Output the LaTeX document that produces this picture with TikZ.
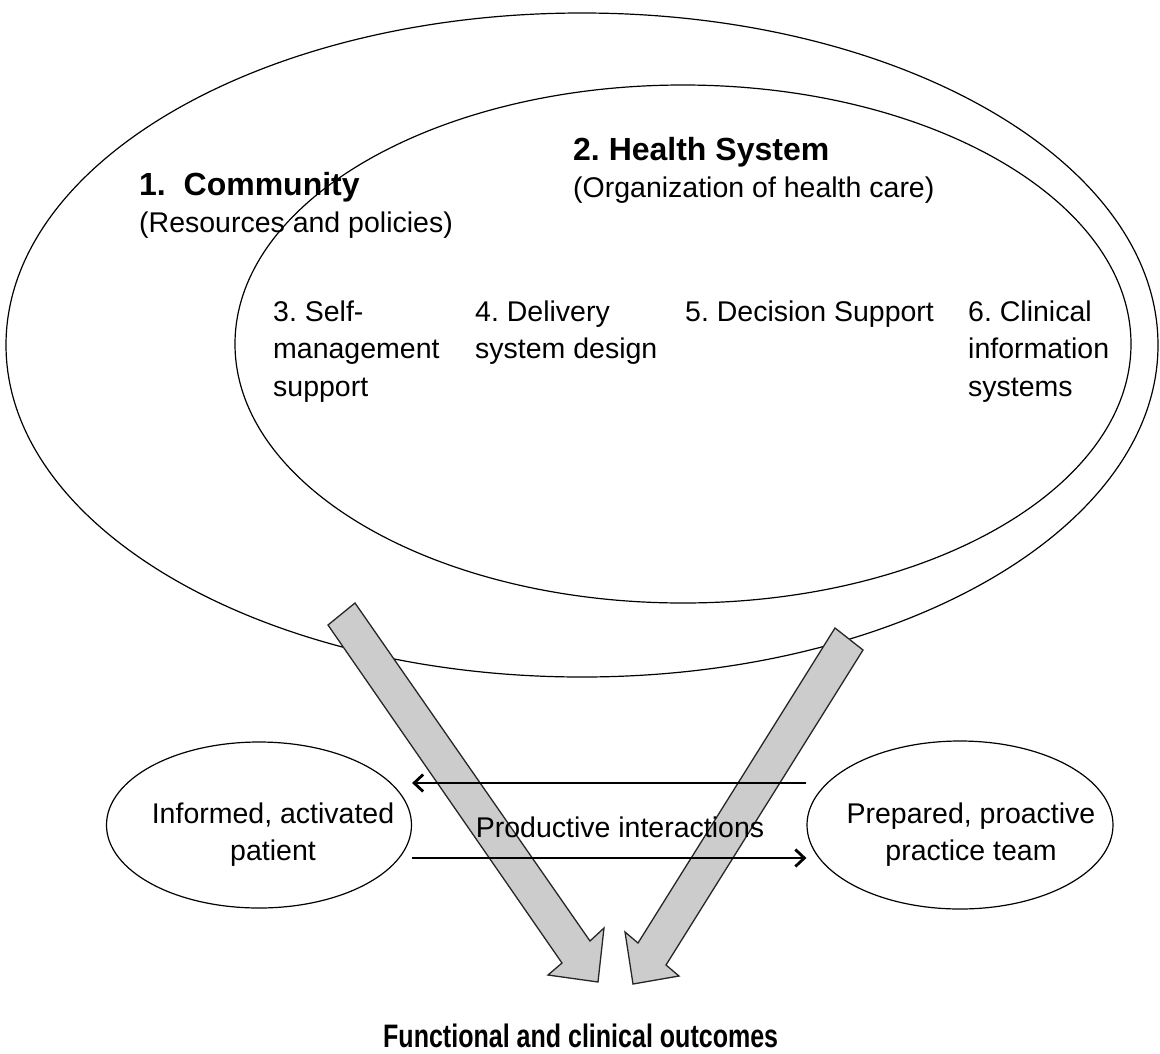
\documentclass[tikz,border=0pt]{standalone}
\usepackage{fontspec}
\setmainfont{Liberation Sans}
\usetikzlibrary{shapes.geometric,arrows.meta}
\definecolor{blockgray}{RGB}{204,204,204}
\frenchspacing
\begin{document}
\begin{tikzpicture}[x=1pt,y=-1pt,
  ring/.style={draw=black,line width=1.2pt,ellipse,inner sep=0pt},
  lbl/.style={inner sep=0pt,anchor=base west,align=left,font=\frenchspacing\fontsize{28.5}{37.5}\selectfont},
  headlbl/.style={inner sep=0pt,anchor=base west,font=\frenchspacing\bfseries\fontsize{32}{38}\selectfont},
  block/.style={fill=blockgray,draw=black!85,line width=1.3pt,line join=miter},
  link/.style={line width=2.8pt,-{Straight Barb[length=9pt,width=17pt,line width=2.8pt]}}
]
\useasboundingbox (0,0) rectangle (1160,1053);
% big ellipses
\node[ring,minimum width=1152pt,minimum height=664pt] (community) at (582,345) {};
\node[ring,minimum width=896pt,minimum height=518pt] (health) at (683,344) {};
% headings
\node[headlbl] (commtitle) at (139,195) {1.\ \ Community};
\node[lbl] (commsub) at (139,232) {(Resources and policies)};
\node[headlbl] (hstitle) at (573,160) {2. Health System};
\node[lbl] (hssub) at (573,197) {(Organization of health care)};
% elements (base anchor = last line baseline)
\node[lbl] (selfmgmt) at (273,396) {3. Self-\\management\\support};
\node[lbl] (delivery) at (475,358.5) {4. Delivery\\system design};
\node[lbl] (decision) at (685,321) {5. Decision Support};
\node[lbl] (clinical) at (968,396) {6. Clinical\\information\\systems};
% gray block arrows
\draw[block] (328,625) -- (355,603) -- (590,941) -- (604,928) -- (598,982) -- (548,975) -- (562,963) -- cycle;
\draw[block] (835,628) -- (863,650) -- (666,965) -- (679,976) -- (633,984) -- (625,932) -- (638,943) -- cycle;
% patient and team
\node[ring,minimum width=305pt,minimum height=166pt] (patient) at (259,825) {};
\node[ring,minimum width=306pt,minimum height=168pt] (team) at (960,825) {};
\node[lbl,align=center,anchor=base] (patienttxt) at (273,860.5) {Informed, activated\\patient};
\node[lbl,align=center,anchor=base] (teamtxt) at (971,860.5) {Prepared, proactive\\practice team};
% interactions
\draw[link] ([yshift=42pt]team.west) -- ([yshift=42pt]patient.east);
\draw[link] ([yshift=-33pt]patient.east) -- ([yshift=-33pt]team.west);
\node[lbl,anchor=base] (productive) at (620,837) {Productive interactions};
% outcomes
\node[headlbl,font=\frenchspacing\bfseries\fontsize{32.5}{38}\selectfont] (outcomes) at (383,1047) {\scalebox{0.77}[1]{Functional and clinical outcomes}};
\end{tikzpicture}
\end{document}
